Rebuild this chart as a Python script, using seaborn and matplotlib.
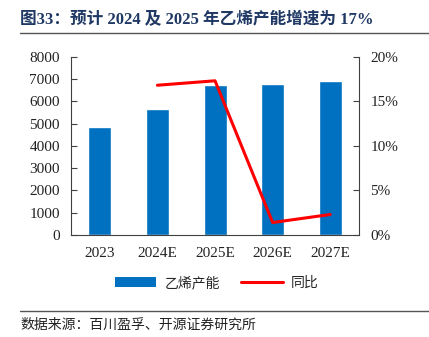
import matplotlib
matplotlib.use("Agg")
import matplotlib.pyplot as plt
import seaborn as sns
import pandas as pd
from matplotlib.patches import Patch
from matplotlib.lines import Line2D
from matplotlib.ticker import FuncFormatter

categories = ["2023", "2024E", "2025E", "2026E", "2027E"]
capacity = [4830, 5670, 6710, 6770, 6920]
yoy_cats = ["2024E", "2025E", "2026E", "2027E"]
yoy = [16.8, 17.3, 1.4, 2.3]

sns.set_style("white")
plt.rcParams['font.family'] = ['Liberation Serif', 'Noto Sans CJK SC']

fig = plt.figure(figsize=(4.29, 3.37), dpi=100)
ax = fig.add_axes([0.1655, 0.3027, 0.6715, 0.529])

df = pd.DataFrame({"cat": categories, "cap": capacity})
sns.barplot(data=df, x="cat", y="cap", color="#0070C0", width=0.4,
            saturation=1, ax=ax, order=categories)
ax.set_ylim(0, 8000)
ax.set_yticks(range(0, 8001, 1000))
ax.set_xlim(-0.5, 4.5)
ax.set_xlabel("")
ax.set_ylabel("")

ax2 = ax.twinx()
pos = [categories.index(c) for c in yoy_cats]
dfl = pd.DataFrame({"x": pos, "y": yoy})
sns.lineplot(data=dfl, x="x", y="y", color="#FF0000", linewidth=2.2, ax=ax2)
ax2.set_ylim(0, 20)
ax2.set_yticks(range(0, 21, 5))
ax2.yaxis.set_major_formatter(FuncFormatter(lambda v, p: f"{int(v)}%"))
ax2.set_xlim(-0.5, 4.5)
ax2.set_xlabel("")
ax2.set_ylabel("")

for a in (ax, ax2):
    a.spines["top"].set_visible(False)
    for s in ("left", "right", "bottom"):
        a.spines[s].set_color("#404040")
        a.spines[s].set_linewidth(0.8)
ax.spines["right"].set_visible(False)
ax2.spines["left"].set_visible(False)
ax2.spines["bottom"].set_visible(False)

ax.set_xticks(range(len(categories)))
ax.set_xticklabels(categories)
ax.set_xticks([0.5, 1.5, 2.5, 3.5], minor=True)
ax.tick_params(axis="x", which="major", length=0, pad=9, labelsize=11, colors="#222222")
ax.tick_params(axis="x", which="minor", direction="in", length=4, color="#404040", width=0.8)
ax.tick_params(axis="y", direction="in", length=4, labelsize=11, colors="#222222", color="#404040", width=0.8, pad=8, left=True)
ax2.tick_params(axis="y", direction="in", length=4, labelsize=11, colors="#222222", color="#404040", width=0.8, pad=8, right=True)
for lab in ax.get_xticklabels() + ax.get_yticklabels() + ax2.get_yticklabels():
    lab.set_color("#222222")

handles = [Patch(facecolor="#0070C0", edgecolor="none"),
           Line2D([0], [0], color="#FF0000", linewidth=2.2)]
fig.legend(handles, ["乙烯产能", "同比"], loc="center", bbox_to_anchor=(0.505, 0.16),
           ncol=2, frameon=False, handlelength=3.0, handleheight=0.7,
           columnspacing=1.5, handletextpad=0.6,
           prop={"family": ["Noto Sans CJK SC"], "size": 10})

fig.text(0.047, 0.94, "图33：预计 2024 及 2025 年乙烯产能增速为 17%",
         fontsize=12, fontweight="bold", color="#1F3864", va="center", ha="left",
         family=["Liberation Serif", "Noto Sans CJK SC"])
fig.add_artist(Line2D([0.047, 1.0], [0.902, 0.902], color="#555555", linewidth=1.0))
fig.add_artist(Line2D([0.047, 1.0], [0.077, 0.077], color="#555555", linewidth=1.0))
fig.text(0.047, 0.035, "数据来源：百川盈孚、开源证券研究所", fontsize=10,
         color="#222222", va="center", ha="left", family=["Noto Sans CJK SC"])

fig.savefig("out.png", dpi=100)
